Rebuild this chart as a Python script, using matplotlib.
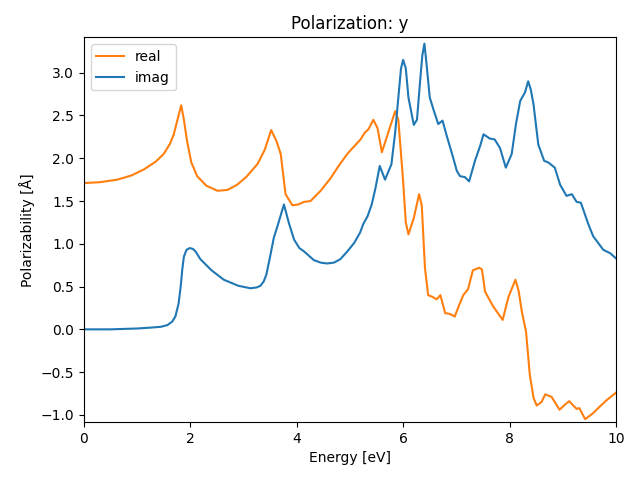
import matplotlib
matplotlib.use("Agg")
import matplotlib.pyplot as plt

real_x = [0.00, 0.30, 0.63, 0.90, 1.13, 1.35, 1.50, 1.62, 1.69, 1.76, 1.83, 1.88, 1.94, 2.02, 2.13, 2.30,
          2.51, 2.70, 2.88, 3.05, 3.26, 3.40, 3.52, 3.62, 3.70, 3.79, 3.92, 4.03, 4.14, 4.26, 4.45,
          4.64, 4.81, 4.95, 5.08, 5.20, 5.28, 5.35, 5.44, 5.52, 5.60, 5.72, 5.85, 5.91, 6.00,
          6.05, 6.10, 6.20, 6.30, 6.35, 6.41, 6.47, 6.55, 6.63, 6.70, 6.79, 6.88, 6.97, 7.05,
          7.13, 7.22, 7.31, 7.43, 7.48, 7.54, 7.69, 7.87, 7.98, 8.11, 8.17, 8.23, 8.31, 8.38,
          8.45, 8.51, 8.60, 8.67, 8.79, 8.94, 9.04, 9.12, 9.26, 9.31, 9.42, 9.57, 9.70, 9.82, 10.00]
real_y = [1.71, 1.72, 1.75, 1.80, 1.87, 1.96, 2.05, 2.17, 2.28, 2.45, 2.62, 2.45, 2.20, 1.95, 1.79, 1.68,
          1.62, 1.63, 1.69, 1.78, 1.93, 2.10, 2.33, 2.20, 2.05, 1.58, 1.45, 1.46, 1.49, 1.50, 1.62,
          1.77, 1.93, 2.05, 2.14, 2.22, 2.30, 2.34, 2.45, 2.35, 2.07, 2.30, 2.55, 2.45, 1.73,
          1.25, 1.11, 1.30, 1.58, 1.45, 0.72, 0.40, 0.38, 0.35, 0.40, 0.19, 0.18, 0.15, 0.28,
          0.40, 0.47, 0.69, 0.72, 0.70, 0.44, 0.27, 0.11, 0.38, 0.58, 0.45, 0.21, -0.03, -0.53,
          -0.80, -0.89, -0.85, -0.76, -0.79, -0.94, -0.88, -0.84, -0.93, -0.92, -1.05, -0.98, -0.90, -0.83, -0.74]

imag_x = [0.00, 0.50, 1.00, 1.25, 1.45, 1.57, 1.66, 1.72, 1.78, 1.82, 1.85, 1.88, 1.93, 1.99, 2.05, 2.10,
          2.19, 2.40, 2.63, 2.90, 3.13, 3.25, 3.32, 3.38, 3.43, 3.50, 3.57, 3.66, 3.76, 3.85,
          3.95, 4.05, 4.14, 4.32, 4.45, 4.57, 4.70, 4.82, 4.95, 5.08, 5.19, 5.25, 5.33, 5.41,
          5.48, 5.56, 5.66, 5.78, 5.85, 5.91, 5.96, 6.00, 6.05, 6.10, 6.20, 6.26, 6.32, 6.36,
          6.40, 6.44, 6.50, 6.58, 6.66, 6.74, 6.82, 6.92, 7.01, 7.07, 7.16, 7.24, 7.35, 7.45,
          7.51, 7.63, 7.72, 7.82, 7.93, 8.04, 8.12, 8.20, 8.29, 8.35, 8.40, 8.45, 8.54, 8.65,
          8.73, 8.85, 8.95, 9.07, 9.17, 9.26, 9.34, 9.48, 9.57, 9.76, 9.89, 10.00]
imag_y = [0.00, 0.00, 0.01, 0.02, 0.03, 0.05, 0.09, 0.15, 0.30, 0.50, 0.70, 0.85, 0.93, 0.95, 0.94, 0.91,
          0.82, 0.69, 0.58, 0.51, 0.48, 0.49, 0.51, 0.56, 0.64, 0.85, 1.07, 1.25, 1.46, 1.25,
          1.05, 0.95, 0.91, 0.81, 0.78, 0.77, 0.78, 0.82, 0.91, 1.01, 1.13, 1.23, 1.32, 1.46,
          1.65, 1.91, 1.75, 1.93, 2.30, 2.71, 3.05, 3.15, 3.05, 2.71, 2.39, 2.45, 2.91, 3.20,
          3.34, 3.10, 2.71, 2.55, 2.40, 2.44, 2.26, 2.05, 1.85, 1.79, 1.78, 1.73, 1.97, 2.15,
          2.28, 2.23, 2.22, 2.12, 1.89, 2.05, 2.40, 2.67, 2.77, 2.90, 2.80, 2.63, 2.16, 1.97,
          1.95, 1.89, 1.69, 1.56, 1.58, 1.49, 1.48, 1.23, 1.09, 0.93, 0.89, 0.83]

fig, ax = plt.subplots(figsize=(6.4, 4.8), dpi=100)
ax.plot(real_x, real_y, color="C1", label="real")
ax.plot(imag_x, imag_y, color="C0", label="imag")
ax.set_xlim(0, 10)
ax.set_ylim(-1.085, 3.414)
ax.set_title("Polarization: y")
ax.set_xlabel("Energy [eV]")
ax.set_ylabel("Polarizability [Å]")
ax.legend(loc="upper left")
fig.subplots_adjust(left=0.131, right=0.9625, top=0.9223, bottom=0.1205)
fig.savefig("out.png")
